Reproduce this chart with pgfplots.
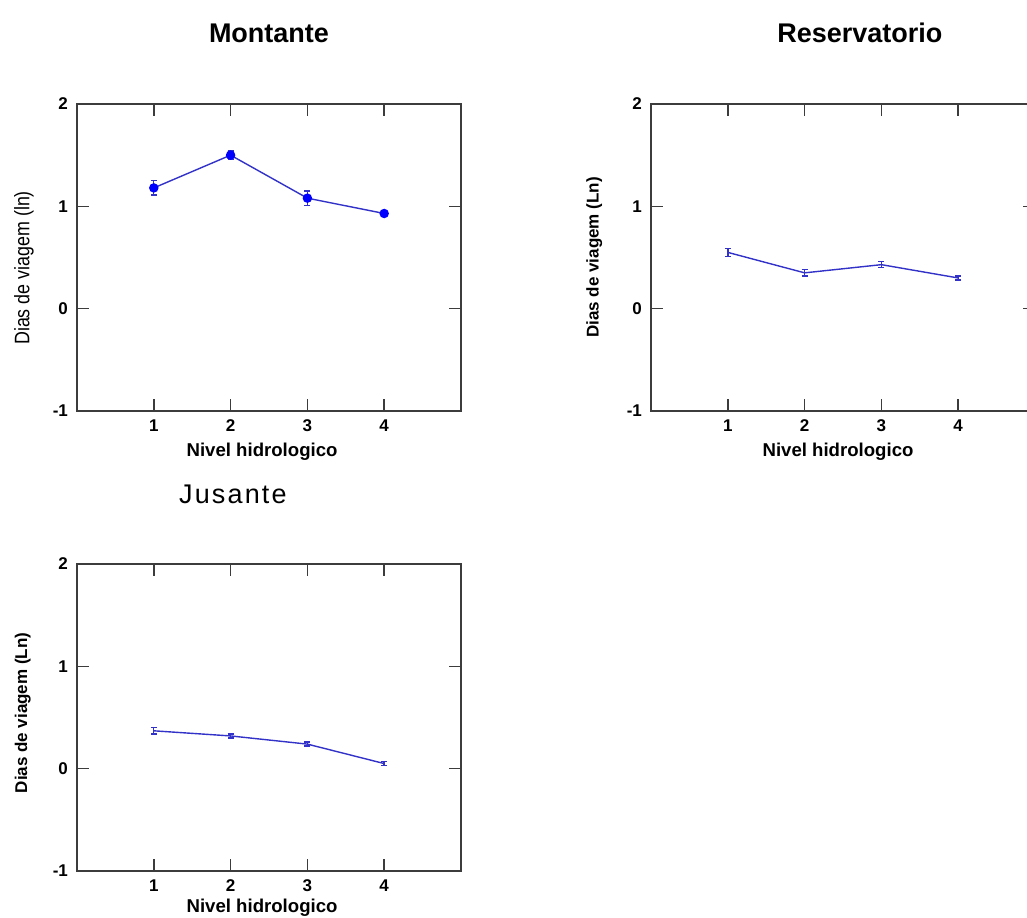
\documentclass[border=0pt]{standalone}
\usepackage{pgfplots}
\pgfplotsset{compat=1.18}
\usepackage{fontspec}
\setmainfont{Liberation Sans}
\newfontfamily\narrowfont[FakeStretch=0.85]{Liberation Sans}

\definecolor{linebl}{RGB}{50,50,200}
\definecolor{axgray}{RGB}{60,60,60}

\pgfplotsset{
  panel/.style={
    scale only axis, width=192pt, height=153.5pt,
    anchor=south west,
    xmin=0, xmax=5, ymin=-1, ymax=2,
    xtick={1,2,3,4}, ytick={-1,0,1,2},
    tick align=inside, major tick length=6pt,
    axis line style={axgray, line width=0.75pt},
    every tick/.style={axgray, line width=0.75pt},
    /pgf/number format/assume math mode=true,
    ticklabel style={font=\fontsize{8.5}{10}\selectfont\bfseries},
    xticklabel style={yshift=-1pt},
    yticklabel style={xshift=-1pt},
    title style={anchor=center, yshift=-6pt},
    xlabel style={anchor=center, font=\fontsize{9.3}{11}\selectfont\bfseries},
    ylabel style={anchor=center, rotate=0},
  },
  dataline/.style={linebl, line width=0.7pt,
    error bars/.cd, y dir=both, y explicit,
    error bar style={linebl, line width=0.7pt},
    error mark options={rotate=90, mark size=1.5pt, linebl, line width=0.7pt},
    /pgfplots/.cd},
}

\begin{document}
\begin{tikzpicture}
\path[use as bounding box] (0,0) rectangle (513.5pt,458.5pt);

% Montante
\begin{axis}[panel, at={(38.5pt,253pt)},
  title={\fontsize{13.5}{15}\selectfont\bfseries Montante},
  title style={at={(rel axis cs:0.5,1.231)}},
  xlabel={Nivel hidrologico},
  xlabel style={at={(rel axis cs:0.482,-0.132)}},
  ylabel={\narrowfont\fontsize{10.5}{12}\selectfont Dias de viagem (ln)},
  ylabel style={at={(rel axis cs:-0.138,0.466)}}]
\addplot[mark=*, mark size=2pt, mark options={blue, fill=blue}, dataline]
  coordinates {(1,1.18) +- (0,0.07) (2,1.50) +- (0,0.04) (3,1.08) +- (0,0.07) (4,0.93) +- (0,0.03)};
\end{axis}

% Reservatorio
\begin{axis}[panel, at={(325.5pt,253pt)},
  title={\fontsize{13.5}{15}\selectfont\bfseries Reservatorio},
  title style={at={(rel axis cs:0.544,1.231)}},
  xlabel={Nivel hidrologico},
  xlabel style={at={(rel axis cs:0.487,-0.132)}},
  ylabel={\fontsize{8.5}{10}\selectfont\bfseries Dias de viagem (Ln)},
  ylabel style={at={(rel axis cs:-0.148,0.5)}}]
\addplot[mark=none, dataline]
  coordinates {(1,0.55) +- (0,0.04) (2,0.35) +- (0,0.03) (3,0.43) +- (0,0.03) (4,0.30) +- (0,0.02)};
\end{axis}

% Jusante
\begin{axis}[panel, at={(38.5pt,23pt)},
  title={\addfontfeature{LetterSpace=8}\fontsize{13.5}{15}\selectfont Jusante},
  title style={at={(rel axis cs:0.406,1.228)}},
  xlabel={Nivel hidrologico},
  xlabel style={at={(rel axis cs:0.482,-0.12)}},
  ylabel={\fontsize{8.5}{10}\selectfont\bfseries Dias de viagem (Ln)},
  ylabel style={at={(rel axis cs:-0.141,0.515)}}]
\addplot[mark=none, dataline]
  coordinates {(1,0.37) +- (0,0.03) (2,0.32) +- (0,0.02) (3,0.24) +- (0,0.02) (4,0.05) +- (0,0.02)};
\end{axis}
\end{tikzpicture}
\end{document}
